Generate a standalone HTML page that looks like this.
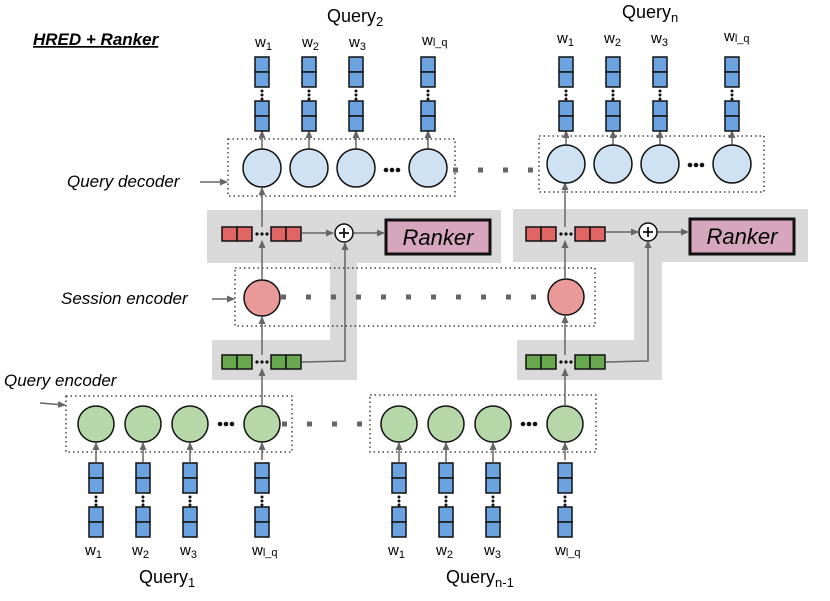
<!DOCTYPE html>
<html><head><meta charset="utf-8"><style>body{margin:0;background:#fff}svg{display:block}text{font-family:"Liberation Sans",sans-serif}</style></head><body>
<svg width="830" height="601" viewBox="0 0 830 601" xmlns="http://www.w3.org/2000/svg">
<defs>
<marker id="a" markerWidth="8" markerHeight="8" refX="7" refY="4" orient="auto" markerUnits="userSpaceOnUse"><path d="M0,0.5 L8,4 L0,7.5z" fill="#666"/></marker>
<g id="ws">
<rect x="0" y="0" width="14" height="15" fill="#6aa3e0" stroke="#111" stroke-width="1.5"/><rect x="0" y="15" width="14" height="15" fill="#6aa3e0" stroke="#111" stroke-width="1.5"/>
<circle cx="7" cy="34" r="1.5" fill="#111"/><circle cx="7" cy="38" r="1.5" fill="#111"/><circle cx="7" cy="42" r="1.5" fill="#111"/>
<rect x="0" y="44" width="14" height="15" fill="#6aa3e0" stroke="#111" stroke-width="1.5"/><rect x="0" y="59" width="14" height="15" fill="#6aa3e0" stroke="#111" stroke-width="1.5"/>
</g>
<g id="red"><rect x="0" y="0" width="15" height="14" fill="#e06666" stroke="#111" stroke-width="1.5"/><rect x="15" y="0" width="15" height="14" fill="#e06666" stroke="#111" stroke-width="1.5"/><rect x="49" y="0" width="15" height="14" fill="#e06666" stroke="#111" stroke-width="1.5"/><rect x="64" y="0" width="15" height="14" fill="#e06666" stroke="#111" stroke-width="1.5"/><circle cx="35" cy="7" r="1.6" fill="#111"/><circle cx="40" cy="7" r="1.6" fill="#111"/><circle cx="45" cy="7" r="1.6" fill="#111"/></g>
<g id="grn"><rect x="0" y="0" width="15" height="14" fill="#6aa84f" stroke="#111" stroke-width="1.5"/><rect x="15" y="0" width="15" height="14" fill="#6aa84f" stroke="#111" stroke-width="1.5"/><rect x="49" y="0" width="15" height="14" fill="#6aa84f" stroke="#111" stroke-width="1.5"/><rect x="64" y="0" width="15" height="14" fill="#6aa84f" stroke="#111" stroke-width="1.5"/><circle cx="35" cy="7" r="1.6" fill="#111"/><circle cx="40" cy="7" r="1.6" fill="#111"/><circle cx="45" cy="7" r="1.6" fill="#111"/></g>
</defs>

<g fill="#d9d9d9">
<rect x="207" y="210" width="294" height="53"/><rect x="330" y="263" width="27" height="80"/><rect x="212" y="340" width="145" height="40"/>
<rect x="513" y="209" width="295" height="53"/><rect x="634" y="262" width="28" height="80"/><rect x="517" y="340" width="145" height="40"/>
</g>

<g fill="none" stroke="#222" stroke-width="1.3" stroke-dasharray="1.5,3">
<rect x="228" y="139" width="227" height="57"/><rect x="539" y="136" width="225" height="56"/>
<rect x="235" y="268" width="360" height="58"/>
<rect x="66" y="396" width="226" height="56"/><rect x="370" y="395" width="226" height="57"/>
</g>

<g stroke="#666" stroke-width="5" stroke-dasharray="5,20">
<line x1="453" y1="170" x2="540" y2="170"/>
<line x1="281" y1="297" x2="548" y2="297"/>
<line x1="282" y1="424" x2="380" y2="424"/>
</g>

<g stroke="#666" stroke-width="1.5" fill="none" marker-end="url(#a)">
<line x1="200" y1="182" x2="227" y2="182"/>
<line x1="212" y1="299" x2="234" y2="299"/>
<line x1="40" y1="403" x2="65" y2="405"/>
<line x1="262" y1="460" x2="262" y2="443"/>
<line x1="262" y1="405" x2="262" y2="369"/>
<line x1="262" y1="355" x2="262" y2="317"/>
<line x1="262" y1="279" x2="262" y2="241"/>
<line x1="262" y1="227" x2="262" y2="188"/>
<polyline points="302,362 345,361 345,243"/>
<line x1="302" y1="233" x2="333" y2="233"/>
<line x1="353" y1="233" x2="384" y2="233"/>
<line x1="565" y1="460" x2="565" y2="443"/>
<line x1="565" y1="405" x2="565" y2="369"/>
<line x1="565" y1="355" x2="565" y2="316"/>
<line x1="565" y1="278" x2="565" y2="241"/>
<line x1="565" y1="227" x2="565" y2="183"/>
<polyline points="606,362 648,361 648,241"/>
<line x1="606" y1="232" x2="638" y2="232"/>
<line x1="657" y1="232" x2="688" y2="232"/>
<line x1="262" y1="149" x2="262" y2="131"/><line x1="309" y1="149" x2="309" y2="131"/><line x1="356" y1="149" x2="356" y2="131"/><line x1="428" y1="149" x2="428" y2="131"/>
<line x1="566" y1="145" x2="566" y2="131"/><line x1="613" y1="145" x2="613" y2="131"/><line x1="660" y1="145" x2="660" y2="131"/><line x1="732" y1="145" x2="732" y2="131"/>
<line x1="96" y1="462" x2="96" y2="443"/><line x1="143" y1="462" x2="143" y2="443"/><line x1="190" y1="462" x2="190" y2="443"/>
<line x1="399" y1="462" x2="399" y2="443"/><line x1="446" y1="462" x2="446" y2="443"/><line x1="493" y1="462" x2="493" y2="443"/>
</g>

<g stroke="#111" stroke-width="1.5">
<g fill="#cfe2f3"><circle cx="262" cy="168" r="19"/><circle cx="309" cy="168" r="19"/><circle cx="356" cy="168" r="19"/><circle cx="428" cy="168" r="19"/>
<circle cx="566" cy="164" r="19"/><circle cx="613" cy="164" r="19"/><circle cx="660" cy="164" r="19"/><circle cx="732" cy="164" r="19"/></g>
<g fill="#ea9999"><circle cx="262" cy="298" r="18"/><circle cx="566" cy="297" r="18"/></g>
<g fill="#b6d7a8"><circle cx="96" cy="424" r="18"/><circle cx="143" cy="424" r="18"/><circle cx="190" cy="424" r="18"/><circle cx="262" cy="424" r="18"/>
<circle cx="399" cy="424" r="18"/><circle cx="446" cy="424" r="18"/><circle cx="493" cy="424" r="18"/><circle cx="565" cy="424" r="18"/></g>
<g fill="#fff"><circle cx="344" cy="233" r="9"/><circle cx="648" cy="232" r="9"/></g>
</g>
<g stroke="#111" stroke-width="1.8"><path d="M339,233h10M344,228v10M643,232h10M648,227v10"/></g>
<g fill="#111">
<circle cx="386" cy="170" r="2.3"/><circle cx="392" cy="170" r="2.3"/><circle cx="398" cy="170" r="2.3"/>
<circle cx="690" cy="165" r="2.3"/><circle cx="696" cy="165" r="2.3"/><circle cx="702" cy="165" r="2.3"/>
<circle cx="220" cy="424" r="2.3"/><circle cx="226" cy="424" r="2.3"/><circle cx="232" cy="424" r="2.3"/>
<circle cx="523" cy="424" r="2.3"/><circle cx="529" cy="424" r="2.3"/><circle cx="535" cy="424" r="2.3"/>
</g>

<use href="#red" x="222" y="227"/><use href="#red" x="526" y="227"/>
<use href="#grn" x="222" y="355"/><use href="#grn" x="526" y="355"/>

<rect x="386" y="220" width="104" height="34" fill="#d5a6bd" stroke="#111" stroke-width="3"/>
<rect x="690" y="219" width="104" height="35" fill="#d5a6bd" stroke="#111" stroke-width="3"/>
<text x="438" y="245" font-size="22" font-style="italic" text-anchor="middle">Ranker</text>
<text x="742" y="244" font-size="22" font-style="italic" text-anchor="middle">Ranker</text>

<use href="#ws" x="255" y="57"/><use href="#ws" x="302" y="57"/><use href="#ws" x="349" y="57"/><use href="#ws" x="421" y="57"/>
<use href="#ws" x="559" y="57"/><use href="#ws" x="606" y="57"/><use href="#ws" x="653" y="57"/><use href="#ws" x="725" y="57"/>
<use href="#ws" x="89" y="463"/><use href="#ws" x="136" y="463"/><use href="#ws" x="183" y="463"/><use href="#ws" x="255" y="463"/>
<use href="#ws" x="392" y="463"/><use href="#ws" x="439" y="463"/><use href="#ws" x="486" y="463"/><use href="#ws" x="558" y="463"/>

<g font-size="15">
<text x="255" y="47">w<tspan font-size="11" dy="3">1</tspan></text><text x="302" y="47">w<tspan font-size="11" dy="3">2</tspan></text><text x="349" y="47">w<tspan font-size="11" dy="3">3</tspan></text><text x="422" y="45">w<tspan font-size="11" dy="1">l_q</tspan></text>
<text x="557" y="43">w<tspan font-size="11" dy="3">1</tspan></text><text x="604" y="43">w<tspan font-size="11" dy="3">2</tspan></text><text x="651" y="43">w<tspan font-size="11" dy="3">3</tspan></text><text x="724" y="41">w<tspan font-size="11" dy="1">l_q</tspan></text>
<text x="85" y="555">w<tspan font-size="11" dy="3">1</tspan></text><text x="132" y="555">w<tspan font-size="11" dy="3">2</tspan></text><text x="180" y="555">w<tspan font-size="11" dy="3">3</tspan></text><text x="252" y="555">w<tspan font-size="11" dy="1">l_q</tspan></text>
<text x="388" y="555">w<tspan font-size="11" dy="3">1</tspan></text><text x="436" y="555">w<tspan font-size="11" dy="3">2</tspan></text><text x="484" y="555">w<tspan font-size="11" dy="3">3</tspan></text><text x="555" y="555">w<tspan font-size="11" dy="1">l_q</tspan></text>
</g>
<g font-size="18">
<text x="327" y="22">Query<tspan font-size="13" dy="4">2</tspan></text>
<text x="622" y="18">Query<tspan font-size="13" dy="4">n</tspan></text>
<text x="139" y="583">Query<tspan font-size="13" dy="4">1</tspan></text>
<text x="446" y="583">Query<tspan font-size="13" dy="4">n-1</tspan></text>
</g>
<g font-size="17" font-style="italic">
<text x="67" y="187">Query decoder</text>
<text x="61" y="304">Session encoder</text>
<text x="4" y="386">Query encoder</text>
</g>
<text x="33" y="45" font-size="17" font-style="italic" font-weight="bold" text-decoration="underline">HRED + Ranker</text>
</svg>
</body></html>
